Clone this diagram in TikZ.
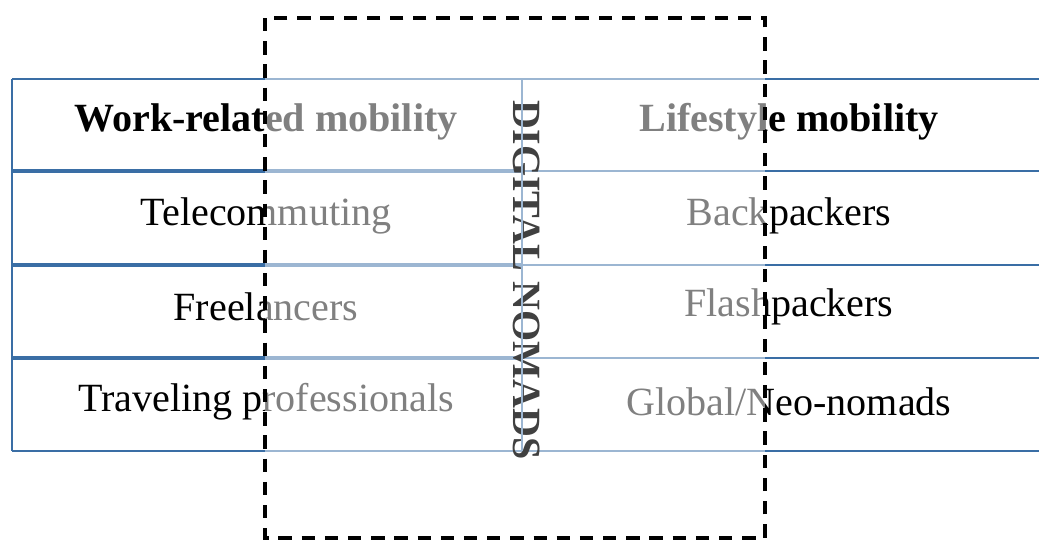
\documentclass[tikz,border=0pt]{standalone}
\usepackage{fontspec}
\setmainfont{Liberation Serif}
\definecolor{tabblue}{HTML}{3A6EA5}

\begin{document}
\begin{tikzpicture}[x=0.02cm, y=-0.02cm]
\tikzstyle{rule} = [draw = tabblue, line width = 1.3pt]
\tikzstyle{thickrule} = [draw = tabblue, line width = 2pt]
\tikzstyle{cell} = [inner sep = 0 pt, font = \fontsize{22.8}{27}\selectfont]
\tikzstyle{head} = [cell, font = \fontsize{22.8}{27}\selectfont\bfseries]
\tikzset{fog/.style = {fill = white, opacity = 0.5},
  frame/.style = {draw = black, line width = 2pt, dash pattern = on 7.6pt off 5.6pt}}
\useasboundingbox (0,0) rectangle (1039,541);

% table rules
\foreach \y in {79,171,265,358,451} \draw[rule] (12,\y) -- (1039,\y);
\foreach \y in {171,265,358} \draw[thickrule] (12,\y) -- (522,\y);
\draw[rule] (12,79) -- (12,451);

% left column
\node[head] (work) at (266,122) {Work-related mobility};
\foreach \name/\y/\txt in {tele/216/Telecommuting, free/307/Freelancers, trav/402/Traveling professionals}
  \node[cell] (\name) at (266,\y) {\txt};

% right column
\node[head] (life) at (789,122) {Lifestyle mobility};
\foreach \name/\y/\txt in {back/216/Backpackers, flash/307/Flashpackers, neo/402/{Global/Neo-nomads}}
  \node[cell] (\name) at (789,\y) {\txt};

% faded band and dashed frame
\fill[fog] (265,18) rectangle (765,538);
\node[head, rotate = -90, text = black!75] (nomads) at (527,280) {DIGITAL NOMADS};
\draw[rule, draw = tabblue!50] (522,79) -- (522,451);
\draw[frame] (265,18) rectangle (765,538);
\end{tikzpicture}
\end{document}
